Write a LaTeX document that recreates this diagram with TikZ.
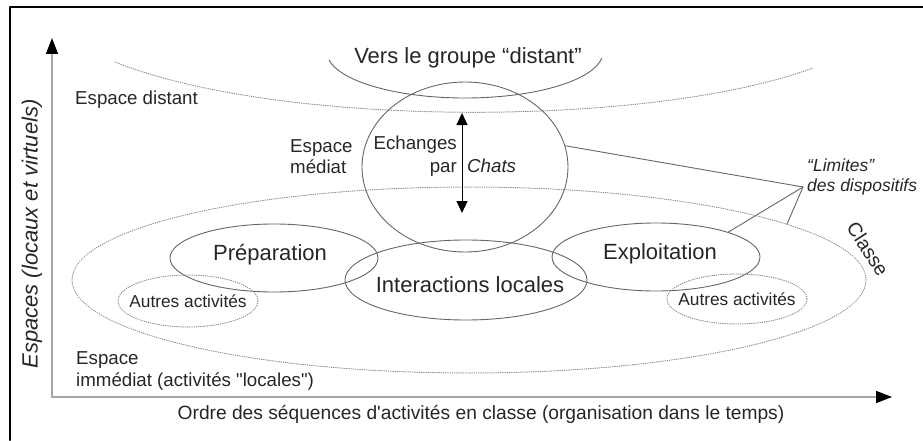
\documentclass[tikz,border=0pt]{standalone}
\usepackage{fontspec}
\newfontfamily\arialfont{Liberation Sans}
\usetikzlibrary{arrows.meta,shapes.geometric}

\begin{document}
\begin{tikzpicture}[x=1pt, y=1pt, line cap=round, line join=round,
    rim/.style={draw=black!60, line width=0.9pt},
    dotline/.style={draw=black!45, line width=1pt, dash pattern=on 0.6pt off 1.6pt},
    zone/.style={rim, ellipse, inner sep=0pt},
    dotzone/.style={dotline, ellipse, inner sep=0pt},
    bigtxt/.style={font=\arialfont\fontsize{22}{24}\selectfont, text=black!85},
    midtxt/.style={font=\arialfont\fontsize{18.7}{21}\selectfont, text=black!85},
    smalltxt/.style={font=\arialfont\fontsize{17.3}{19}\selectfont, text=black!85},
    axis/.style={draw=black!35, line width=1.6pt, -{Triangle[length=16pt, width=12pt, color=black]}}]

    \useasboundingbox (0,0) rectangle (923,440);

    % Frame (only its top and left edges are in the picture)
    \draw[line width=2.5pt] (10,0) -- (10,433) -- (923,433);

    % Axes
    \coordinate (O) at (52,43);
    \coordinate (ytip) at (52,402);
    \coordinate (xtip) at (892,43);
    \draw[axis] (O) -- (ytip);
    \draw[axis] (O) -- (xtip);
    \node[bigtxt, rotate=90] (ylab) at (32,206) {\itshape Espaces (locaux et virtuels)};
    \node[font=\arialfont\fontsize{19.2}{21}\selectfont, text=black!85] (xlab) at (481,26)
        {Ordre des séquences d'activités en classe (organisation dans le temps)};

    % Boundary between distant and mediated space
    \draw[dotline] (115,378) .. controls (280,312) and (650,312) .. (813,372);

    % Zones
    \node[dotzone, minimum width=794pt, minimum height=186pt] (classe) at (469,160) {};
    \node[zone, minimum width=206pt, minimum height=170pt] (chat) at (465,273) {};
    \node[zone, minimum width=208pt, minimum height=68pt] (prep) at (274,182) {};
    \node[zone, minimum width=242pt, minimum height=80pt] (inter) at (466,160) {};
    \node[zone, minimum width=208pt, minimum height=68pt] (expl) at (656,183) {};
    \node[dotzone, minimum width=140pt, minimum height=52pt] (autreA) at (188,139) {};
    \node[dotzone, minimum width=140pt, minimum height=50pt] (autreB) at (737,141) {};

    % Zone labels
    \node[bigtxt] (preplab) at (270,185) {Préparation};
    \node[bigtxt] (interlab) at (470,155) {Interactions locales};
    \node[bigtxt] (expllab) at (660,186) {Exploitation};
    \node[smalltxt] (autreAlab) at (autreA) {Autres activités};
    \node[smalltxt] (autreBlab) at (autreB) {Autres activités};
    \node[font=\arialfont\fontsize{19.5}{20}\selectfont, text=black!85, rotate=-57] (classelab) at (868,191) {Classe};

    % Distant group
    \node[bigtxt] (vers) at (468,382) {Vers le groupe “distant”};
    \draw[rim] (465,388) ++(190:138 and 46) arc[start angle=190, end angle=352, x radius=138, y radius=46];

    % Spaces
    \node[midtxt, anchor=west, inner sep=0pt] (distant) at (75,340) {Espace distant};
    \node[midtxt, anchor=west, align=left, inner sep=0pt] (mediat) at (290,283) {Espace\\médiat};
    \node[midtxt, anchor=west, align=left, inner sep=0pt] (immediat) at (76,69)
        {Espace\\[1pt]immédiat (activités "locales")};

    % Chat exchanges
    \node[midtxt, anchor=east, align=right, inner sep=0pt] (echanges) at (457,284) {Echanges\\[2pt]par};
    \node[midtxt, anchor=base west, inner sep=0pt] (chats) at (467,268) {\itshape Chats};
    \coordinate (ctop) at (462,327);
    \coordinate (cbot) at (462,227);
    \draw[line width=1pt, {Triangle[length=12pt, width=11pt]}-{Triangle[length=12pt, width=11pt]}] (ctop) -- (cbot);

    % Limits of the devices
    \coordinate (lim) at (803,253);
    \node[font=\arialfont\itshape\fontsize{17.5}{20}\selectfont, text=black!85, anchor=west, align=left,
        inner sep=0pt] (limlab) at (807,263) {“Limites”\\des dispositifs};
    \draw[rim] (lim) -- (chat.12);
    \draw[rim] (lim) -- (expl.19);
    \draw[rim] (lim) -- (classe.10);

\end{tikzpicture}
\end{document}
